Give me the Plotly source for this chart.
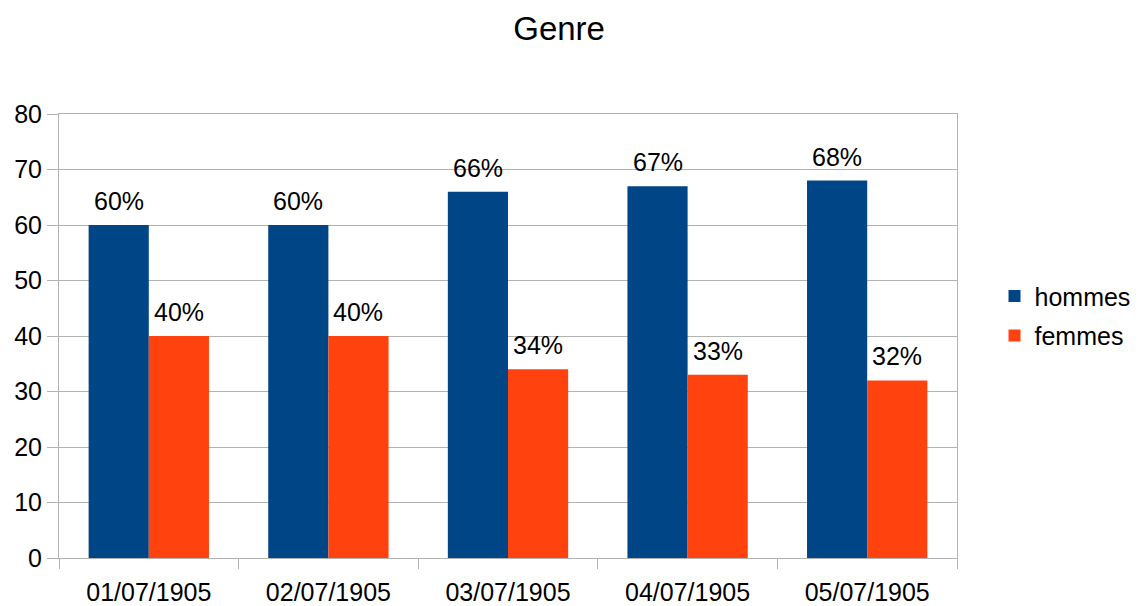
import plotly.graph_objects as go

categories = ["01/07/1905", "02/07/1905", "03/07/1905", "04/07/1905", "05/07/1905"]
hommes = [60, 60, 66, 67, 68]
femmes = [40, 40, 34, 33, 32]
hommes_labels = ["60%", "60%", "66%", "67%", "68%"]
femmes_labels = ["40%", "40%", "34%", "33%", "32%"]

font_family = "Liberation Sans, Arial, sans-serif"

fig = go.Figure()
fig.add_trace(go.Bar(name="hommes", x=categories, y=hommes, marker_color="#004586",
                     marker_line_width=0, offsetgroup="h", legendgroup="h"))
fig.add_trace(go.Bar(name="femmes", x=categories, y=femmes, marker_color="#ff420e",
                     marker_line_width=0, offsetgroup="f", legendgroup="f"))

# value labels above bars
for i, cat in enumerate(categories):
    fig.add_annotation(x=cat, y=hommes[i], text=hommes_labels[i], showarrow=False,
                       xshift=-30, yshift=24, font=dict(size=25, color="black"))
    fig.add_annotation(x=cat, y=femmes[i], text=femmes_labels[i], showarrow=False,
                       xshift=30, yshift=24, font=dict(size=25, color="black"))

fig.update_layout(
    width=1141, height=606,
    barmode="group", bargap=0.33, bargroupgap=0,
    plot_bgcolor="white", paper_bgcolor="white",
    font=dict(family=font_family, size=25, color="black"),
    title=dict(text="Genre", xref="container", yref="container",
               x=0.483, xanchor="center", y=0.967, yanchor="middle",
               font=dict(size=33, family=font_family, color="black")),
    margin=dict(l=51, r=192, t=106, b=56),
    legend=dict(xref="container", yref="container", x=0.8646, y=0.492,
                xanchor="left", yanchor="middle",
                font=dict(size=25), itemwidth=30, tracegroupgap=4,
                traceorder="grouped"),
)
fig.update_xaxes(showline=True, linecolor="#b3b3b3", linewidth=1, mirror=True,
                 ticks="outside", tickson="boundaries", ticklen=10, tickcolor="#b3b3b3",
                 tickfont=dict(size=25), showgrid=False, automargin=False,
                 ticklabelstandoff=12)
fig.update_yaxes(range=[0, 80], dtick=10, showline=True, linecolor="#b3b3b3", linewidth=1,
                 mirror=True, ticks="outside", ticklen=11, tickcolor="#b3b3b3",
                 gridcolor="#b3b3b3", gridwidth=1, tickfont=dict(size=25),
                 zeroline=False, automargin=False)

fig.write_html("out.html")
